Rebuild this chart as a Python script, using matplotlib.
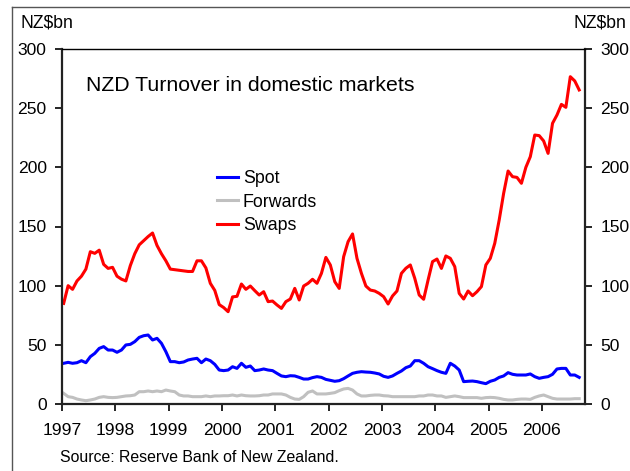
import matplotlib
matplotlib.use("Agg")
import matplotlib.pyplot as plt
import numpy as np
from matplotlib.lines import Line2D

plt.rcParams['font.family'] = ['Liberation Sans', 'DejaVu Sans']

# Monthly observations, Jan 1997 - Sep 2006 (NZ$bn)
start_year = 1997
swaps = [85, 100, 96.9, 104, 108, 114, 128.7, 127.3, 130, 118,
         114.6, 115.5, 108, 105.5, 104, 117, 127, 134.5, 138, 141.5,
         144.5, 134, 127, 121, 114, 113.5, 113, 112.5, 112, 112,
         121, 121, 115, 102, 96, 84, 81.5, 78, 90.5, 91,
         101.4, 96.9, 99.7, 95.8, 92.1, 94.9, 86.5, 87, 83.7, 80.8,
         86.5, 88.7, 97.7, 87.9, 99.7, 102, 105.4, 102, 110.4, 123.9,
         117.5, 103.4, 97.7, 124.5, 137.2, 143.7, 123.1, 110.4, 99.7, 96.3,
         95.5, 93.5, 90.7, 84.5, 91.3, 95.5, 110.4, 114.7, 117.5, 106.2,
         92.1, 88.5, 104.8, 120.3, 122.5, 114.6, 125.1, 123.1, 116.1, 93.5,
         88.7, 95.5, 91.5, 94.9, 99.2, 117.5, 123.1, 135.8, 155.5, 178,
         196.9, 192.1, 191.5, 186.5, 200, 209, 227.3, 226.8, 222.3, 211.8,
         237.2, 244.2, 253.2, 250.7, 276.6, 273, 265.4]

spot = [34.4, 35.2, 34.4, 34.9, 36.6, 34.9, 40, 42.8, 47, 48.5,
        45.6, 45.6, 43.7, 45.6, 49.9, 50.4, 52.7, 56.3, 57.7, 58.3,
        54.1, 55.5, 51.3, 44.2, 35.8, 35.8, 34.9, 35.5, 37.2, 38,
        38.6, 34.9, 38, 36.6, 33.5, 28.7, 28.2, 28.7, 31.5, 30.1,
        34.4, 31, 32.1, 28.2, 28.7, 29.6, 28.7, 28.2, 25.9, 23.7,
        23.1, 23.9, 23.7, 22.5, 21.1, 21.1, 22.3, 23.1, 22.5, 20.8,
        20.0, 19.2, 19.7, 21.4, 23.7, 25.9, 26.8, 27.3, 27.0, 26.8,
        26.2, 25.4, 23.4, 22.5, 23.7, 25.9, 27.9, 30.7, 32.1, 36.6,
        36.6, 34.4, 31.5, 29.9, 28.2, 26.8, 25.9, 34.4, 32.1, 28.7,
        18.9, 19.2, 19.4, 18.9, 18.0, 17.2, 19.2, 20.3, 22.5, 23.7,
        26.5, 25.1, 24.5, 24.5, 24.5, 25.4, 23.1, 21.7, 22.5, 23.1,
        25.1, 29.6, 30.1, 30.1, 24.5, 24.5, 22.5]

forwards = [9.0, 6.2, 5.6, 4.2, 3.4, 2.8, 3.4, 4.2, 5.6, 6.2,
            5.6, 5.4, 5.6, 6.2, 6.8, 7.0, 7.6, 10.4, 10.4, 11.0,
            10.4, 11.0, 10.4, 11.8, 11.0, 10.4, 7.6, 6.8, 6.8, 6.2,
            6.2, 6.2, 6.8, 6.2, 6.8, 6.8, 7.0, 7.0, 7.6, 6.8,
            7.6, 7.0, 6.8, 6.8, 7.0, 7.6, 7.6, 8.5, 8.5, 8.5,
            7.6, 5.6, 4.2, 3.9, 6.2, 9.9, 11.0, 8.5, 8.5, 8.5,
            9.0, 9.6, 11.3, 12.7, 13.2, 11.8, 8.5, 6.8, 6.8, 7.3,
            7.6, 7.6, 7.0, 6.8, 6.2, 6.2, 6.2, 6.2, 6.2, 6.2,
            6.8, 6.8, 7.6, 7.6, 6.8, 6.8, 5.6, 6.2, 6.8, 6.2,
            5.4, 5.4, 5.4, 5.4, 4.8, 5.4, 5.6, 5.4, 4.8, 3.9,
            3.4, 3.4, 3.9, 4.2, 4.2, 3.9, 5.6, 6.8, 7.6, 6.2,
            4.8, 4.2, 4.2, 4.2, 4.2, 4.5, 4.5]

year_ticks = list(range(1997, 2007))
y_ticks = [0, 50, 100, 150, 200, 250, 300]

n = len(swaps)
x = start_year + (np.arange(n) + 0.375) / 12.0

fig = plt.figure(figsize=(6.30, 4.71), dpi=100)
ax = fig.add_axes([62/630, 1 - 404/471, 523/630, 355/471])

ax.plot(x, spot, color='#0000FF', lw=2.2, label='Spot', solid_joinstyle='round')
ax.plot(x, forwards, color='#C0C0C0', lw=2.2, label='Forwards', solid_joinstyle='round')
ax.plot(x, swaps, color='#FF0000', lw=2.2, label='Swaps', solid_joinstyle='round')

ax.set_xlim(1997, 1997 + 523/53.33)
ax.set_ylim(0, 300)
ax.set_xticks(year_ticks)
ax.set_xticklabels([str(y) for y in year_ticks])
ax.set_yticks(y_ticks)

ax.tick_params(axis='x', direction='out', length=5, width=1.2, pad=9, labelsize=12.6, colors='#000000')
ax.tick_params(axis='y', direction='out', length=5, width=1.2, pad=6, labelsize=12.6,
               left=True, right=True, labelleft=True, labelright=True)

for side in ['left', 'right', 'bottom']:
    ax.spines[side].set_linewidth(1.6)
    ax.spines[side].set_color('#222222')
ax.spines['top'].set_linewidth(1.0)
ax.spines['top'].set_color('#000000')

ax.text(0.046, 0.897, 'NZD Turnover in domestic markets', transform=ax.transAxes,
        fontsize=15.3, va='center', ha='left')

leg = ax.legend(loc='upper left', bbox_to_anchor=(0.296, 0.659), frameon=False,
                fontsize=12.8, handlelength=1.18, handletextpad=0.28,
                labelspacing=0.37, borderpad=0, borderaxespad=0)

fig.text(20/630, 1 - 23/471, 'NZ$bn', fontsize=12.7, ha='left', va='center')
fig.text(626/630, 1 - 23/471, 'NZ$bn', fontsize=12.7, ha='right', va='center')
fig.text(60/630, 1 - 457/471, 'Source: Reserve Bank of New Zealand.', fontsize=11.4,
         ha='left', va='center')

# outer frame (left and top edges visible)
fig.add_artist(Line2D([12/630, 12/630], [0, 1 - 6.5/471], transform=fig.transFigure,
                      color='#555555', lw=1.0))
fig.add_artist(Line2D([12/630, 1], [1 - 6.5/471, 1 - 6.5/471], transform=fig.transFigure,
                      color='#555555', lw=1.0))

fig.savefig('out.png', dpi=100)
